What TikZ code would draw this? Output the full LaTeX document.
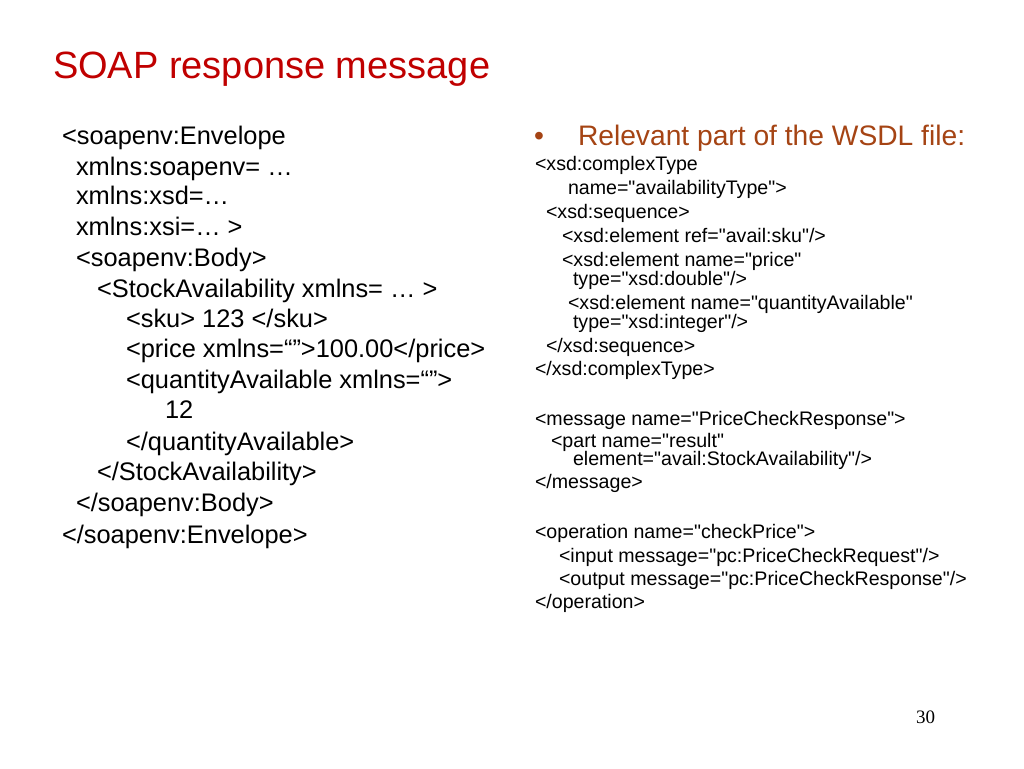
\documentclass[tikz,border=0pt]{standalone}
\usepackage{fontspec}
\setmainfont{Liberation Sans}[Ligatures=TeXOff]
\newfontfamily\pagenumfont{Liberation Serif}
\definecolor{titlered}{RGB}{192,0,0}
\definecolor{bulletbrown}{RGB}{165,68,20}
\tikzset{every node/.style={anchor=base west,inner sep=0pt,outer sep=0pt},
         titletext/.style={font=\fontsize{38}{40}\selectfont,text=titlered},
         soapline/.style={font=\fontsize{25.4}{30}\selectfont},
         bullettext/.style={font=\fontsize{28.2}{32}\selectfont,text=bulletbrown},
         wsdlline/.style={font=\fontsize{19.6}{22}\selectfont}}

\begin{document}
\begin{tikzpicture}
        [x=1pt,y=-1pt]
        % the page is 1024 x 768, one unit for one pixel, y runs downwards
        \fill[white] (0,0) rectangle (1024,768);
        \useasboundingbox (0,0) rectangle (1024,768);

        \node[titletext] (title) at (53,78) {SOAP response message};

        % the response message on the left
        \node[soapline] (e1) at (62,144) {<soapenv:Envelope};
        \node[soapline] (e2) at (76,175) {xmlns:soapenv= …};
        \node[soapline] (e3) at (76,204) {xmlns:xsd=…};
        \node[soapline] (e4) at (76,235) {xmlns:xsi=… >};
        \node[soapline] (e5) at (76,266) {<soapenv:Body>};
        \node[soapline] (e6) at (97,297) {<StockAvailability xmlns= … >};
        \node[soapline] (e7) at (126,327) {<sku> 123 </sku>};
        \node[soapline] (e8) at (126,357) {<price xmlns=“”>100.00</price>};
        \node[soapline] (e9) at (126,388) {<quantityAvailable xmlns=“”>};
        \node[soapline] (e10) at (165,418) {12};
        \node[soapline] (e11) at (126,450) {</quantityAvailable>};
        \node[soapline] (e12) at (97,480) {</StockAvailability>};
        \node[soapline] (e13) at (76,511) {</soapenv:Body>};
        \node[soapline] (e14) at (62,543) {</soapenv:Envelope>};

        % the wsdl part on the right
        \node[bullettext] (bul) at (534,145) {•};
        \node[bullettext] (head) at (578,145) {Relevant part of the WSDL file:};

        \node[wsdlline] (w1) at (535,170) {<xsd:complexType};
        \node[wsdlline] (w2) at (568,194) {name="availabilityType">};
        \node[wsdlline] (w3) at (546,218) {<xsd:sequence>};
        \node[wsdlline] (w4) at (562,242) {<xsd:element ref="avail:sku"/>};
        \node[wsdlline] (w5) at (562,266) {<xsd:element name="price"};
        \node[wsdlline] (w6) at (573,285) {type="xsd:double"/>};
        \node[wsdlline] (w7) at (568,309) {<xsd:element name="quantityAvailable"};
        \node[wsdlline] (w8) at (573,328) {type="xsd:integer"/>};
        \node[wsdlline] (w9) at (546,352) {</xsd:sequence>};
        \node[wsdlline] (w10) at (535,375) {</xsd:complexType>};

        \node[wsdlline] (w11) at (535,425) {<message name="PriceCheckResponse">};
        \node[wsdlline] (w12) at (551,447) {<part name="result"};
        \node[wsdlline] (w13) at (573,465) {element="avail:StockAvailability"/>};
        \node[wsdlline] (w14) at (535,488) {</message>};

        \node[wsdlline] (w15) at (535,538) {<operation name="checkPrice">};
        \node[wsdlline] (w16) at (559,562) {<input message="pc:PriceCheckRequest"/>};
        \node[wsdlline] (w17) at (559,585) {<output message="pc:PriceCheckResponse"/>};
        \node[wsdlline] (w18) at (535,608) {</operation>};

        \node[font=\pagenumfont\fontsize{19}{22}\selectfont] (pnum) at (916,723) {30};

      \end{tikzpicture}
\end{document}
